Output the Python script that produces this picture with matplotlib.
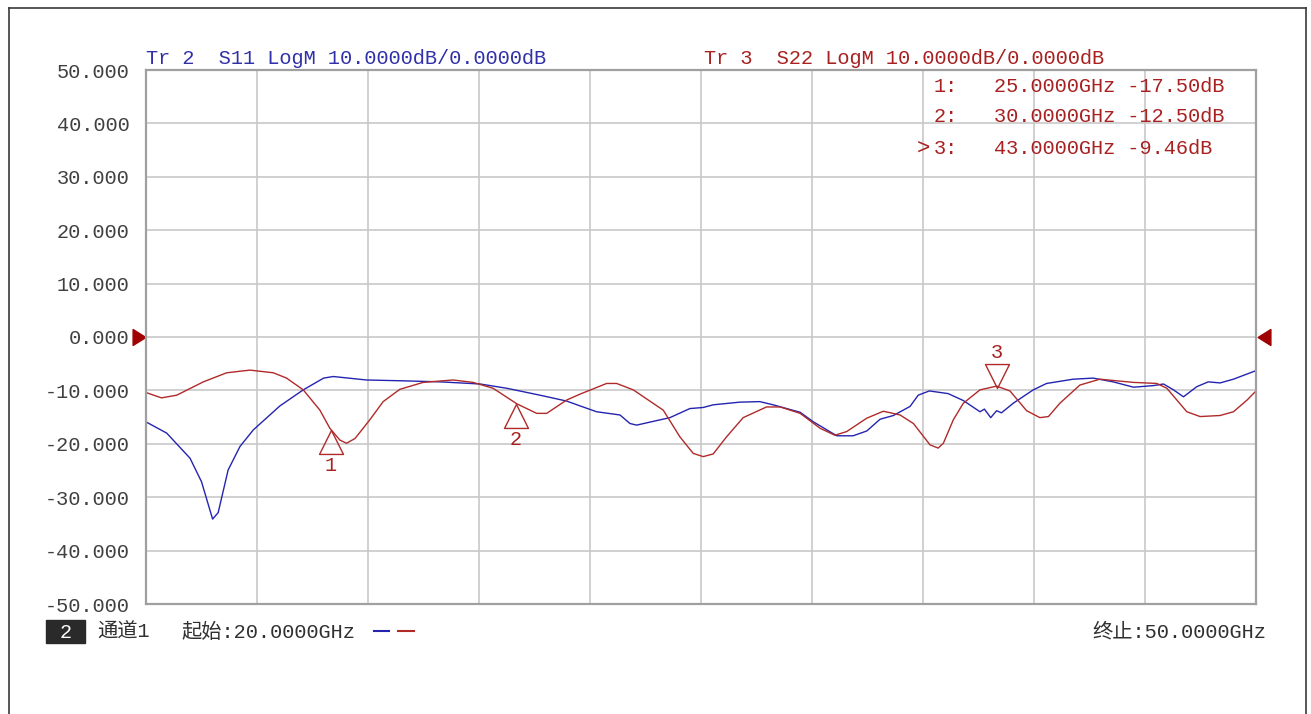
import numpy as np
import matplotlib
matplotlib.use("Agg")
import matplotlib.pyplot as plt
from matplotlib.path import Path
from matplotlib.lines import Line2D
from matplotlib.patches import Rectangle

W, H = 1311, 714

# S11 (Tr 2), 频率 GHz / dB
freq_s11 = [20.0, 20.56, 21.19, 21.5, 21.8, 21.95, 22.22, 22.54, 22.9, 23.62,
            24.25, 24.8, 25.06, 25.96, 26.9, 27.95, 29.03, 29.75, 30.65, 31.37,
            31.73, 32.18, 32.81, 33.08, 33.26, 34.16, 34.7, 35.06, 35.33, 36.05,
            36.59, 36.95, 37.68, 38.04, 38.67, 39.11, 39.48, 39.84, 40.2, 40.65,
            40.87, 41.17, 41.68, 42.09, 42.54, 42.66, 42.83, 42.99, 43.12, 43.44,
            43.98, 44.34, 45.06, 45.6, 46.14, 46.69, 47.23, 47.5, 47.77, 48.04,
            48.4, 48.71, 49.03, 49.39, 50.0]
db_s11 = [-15.9, -18.0, -22.7, -27.1, -34.1, -32.9, -24.9, -20.5, -17.4, -12.9,
          -9.9, -7.7, -7.4, -8.05, -8.2, -8.4, -8.8, -9.6, -10.9, -12.0,
          -12.9, -14.0, -14.6, -16.2, -16.5, -15.1, -13.4, -13.2, -12.7, -12.2,
          -12.1, -12.7, -14.1, -15.9, -18.5, -18.5, -17.6, -15.4, -14.7, -13.0,
          -10.9, -10.1, -10.6, -11.9, -14.0, -13.5, -15.1, -13.8, -14.2, -12.4,
          -9.9, -8.7, -7.9, -7.7, -8.4, -9.4, -9.1, -8.8, -9.9, -11.2,
          -9.3, -8.4, -8.6, -7.9, -6.3]

# S22 (Tr 3)
freq_s22 = [20.0, 20.42, 20.83, 21.55, 22.18, 22.81, 23.44, 23.8, 24.25, 24.7,
            24.97, 25.24, 25.42, 25.65, 26.05, 26.41, 26.86, 27.49, 28.3, 28.84,
            29.38, 30.02, 30.56, 30.83, 31.37, 31.73, 32.45, 32.72, 33.17, 33.98,
            34.43, 34.79, 35.06, 35.33, 35.69, 36.14, 36.77, 37.14, 37.68, 38.22,
            38.62, 38.94, 39.48, 39.93, 40.38, 40.74, 41.0, 41.19, 41.41, 41.55,
            41.82, 42.09, 42.54, 42.99, 43.35, 43.8, 44.16, 44.39, 44.7, 45.24,
            45.78, 46.23, 46.69, 47.32, 47.59, 48.13, 48.49, 49.03, 49.39, 49.76,
            50.0]
db_s22 = [-10.4, -11.4, -10.9, -8.4, -6.7, -6.2, -6.7, -7.7, -9.9, -13.7,
          -17.1, -19.3, -19.9, -19.0, -15.5, -12.1, -9.8, -8.5, -8.05, -8.5,
          -9.6, -12.5, -14.3, -14.3, -11.8, -10.7, -8.7, -8.7, -9.9, -13.7,
          -18.7, -21.8, -22.4, -21.9, -18.7, -15.1, -13.1, -13.1, -14.3, -17.1,
          -18.4, -17.7, -15.2, -13.9, -14.6, -16.2, -18.5, -20.2, -20.8, -19.9,
          -15.5, -12.4, -9.9, -9.2, -10.1, -13.8, -15.1, -14.9, -12.4, -9.0,
          -7.9, -8.2, -8.5, -8.7, -9.6, -14.0, -14.9, -14.7, -14.0, -11.8,
          -10.1]

marker_names = ["1", "2", "3"]
marker_freq = [25.0, 30.0, 43.0]
marker_db = [-17.50, -12.50, -9.46]
marker_up = [True, True, False]
active_marker = 2

f_start, f_stop = 20.0, 50.0
y_ticks = list(range(-50, 51, 10))
x_grid = np.linspace(f_start, f_stop, 11)

BLUE = "#2424b0"
RED = "#b02a2a"
TXT_RED = "#a82020"
TXT_BLUE = "#3030a8"

plt.rcParams['font.family'] = ['Liberation Mono', 'Noto Sans CJK SC']


def fx(x):
    return x / W


def fy(y):
    return 1 - y / H


fig = plt.figure(figsize=(W / 100, H / 100), dpi=100)

# 外框
for xs, ys in [((9, 9), (8, 720)), ((9, 1306), (8, 8)), ((1306, 1306), (8, 720))]:
    fig.add_artist(Line2D([fx(v) for v in xs], [fy(v) for v in ys],
                          color="#3a3a3a", lw=1.2))

ax = fig.add_axes([fx(146), fy(604), 1110 / W, 534 / H])
ax.set_xlim(f_start, f_stop)
ax.set_ylim(-50, 50)
ax.set_xticks(x_grid)
ax.set_xticklabels([])
ax.set_yticks(y_ticks)
ax.set_yticklabels([f"{v:.3f}" for v in y_ticks])
ax.tick_params(axis='both', length=0)
ax.tick_params(axis='y', pad=12, labelsize=14.6, labelcolor="#404040")
ax.grid(True, color="#c8c8c8", lw=1.2)
ax.set_axisbelow(True)
for s in ax.spines.values():
    s.set_color("#a0a0a0")
    s.set_linewidth(1.6)

ax.plot(freq_s11, db_s11, color=BLUE, lw=1.0)
ax.plot(freq_s22, db_s22, color=RED, lw=1.0)

# 标记三角
up_tri = Path([(0, 0), (-0.5, -1), (0.5, -1), (0, 0)],
              [Path.MOVETO, Path.LINETO, Path.LINETO, Path.CLOSEPOLY])
down_tri = Path([(0, 0), (-0.5, 1), (0.5, 1), (0, 0)],
                [Path.MOVETO, Path.LINETO, Path.LINETO, Path.CLOSEPOLY])
for name, f, d, up in zip(marker_names, marker_freq, marker_db, marker_up):
    ax.plot([f], [d], marker=up_tri if up else down_tri, ms=34.5,
            mfc="none", mec=RED, mew=1.0, clip_on=False)
    ax.annotate(name, (f, d), xytext=(0, -25.5 if up else 25.5),
                textcoords="offset points", ha="center", va="center",
                color=TXT_RED, fontsize=14.6)

# 参考电平箭头
right_arrow = Path([(-0.4, 0.5), (0.4, 0), (-0.4, -0.5), (-0.4, 0.5)],
                   [Path.MOVETO, Path.LINETO, Path.LINETO, Path.CLOSEPOLY])
left_arrow = Path([(0.4, 0.5), (-0.4, 0), (0.4, -0.5), (0.4, 0.5)],
                  [Path.MOVETO, Path.LINETO, Path.LINETO, Path.CLOSEPOLY])
ytr = ax.get_yaxis_transform()
ax.plot([-0.0067], [0], marker=right_arrow, ms=11.5, color="#a00000",
        transform=ytr, clip_on=False)
ax.plot([1.0076], [0], marker=left_arrow, ms=11.5, color="#a00000",
        transform=ytr, clip_on=False)

# 迹线标题
fig.text(fx(146), fy(64), "Tr 2  S11 LogM 10.0000dB/0.0000dB", color=TXT_BLUE,
         fontsize=14.6, va="baseline", ha="left")
fig.text(fx(704), fy(64), "Tr 3  S22 LogM 10.0000dB/0.0000dB", color=TXT_RED,
         fontsize=14.6, va="baseline", ha="left")

# 标记表
rows_y = [87, 117, 148]
for i, (name, f, d, yy) in enumerate(zip(marker_names, marker_freq, marker_db, rows_y)):
    fig.text(fx(934), fy(yy), f"{name}:", color=TXT_RED, fontsize=14.6,
             va="center", ha="left")
    fig.text(fx(994), fy(yy), f"{f:.4f}GHz {d:.2f}dB", color=TXT_RED,
             fontsize=14.6, va="center", ha="left")
    if i == active_marker:
        fig.text(fx(930), fy(yy), ">", color=TXT_RED, fontsize=16,
                 va="center", ha="right")

# 底部状态栏
fig.add_artist(Rectangle((fx(46), fy(643)), 39 / W, 23 / H, color="#2a2a2a"))
fig.text(fx(65.5), fy(632), "2", color="white", fontsize=14.6, ha="center", va="center")
fig.text(fx(97), fy(632), "通道1", color="#303030", fontsize=14.6, ha="left", va="center")
fig.text(fx(181), fy(632), f"起始:{f_start:.4f}GHz", color="#303030", fontsize=14.6,
         ha="left", va="center")
fig.add_artist(Line2D([fx(374), fx(389)], [fy(631), fy(631)], color=BLUE, lw=1.5))
fig.add_artist(Line2D([fx(398), fx(414)], [fy(631), fy(631)], color=RED, lw=1.5))
fig.text(fx(1266), fy(632), f"终止:{f_stop:.4f}GHz", color="#303030", fontsize=14.6,
         ha="right", va="center")

fig.savefig("out.png", dpi=100)
